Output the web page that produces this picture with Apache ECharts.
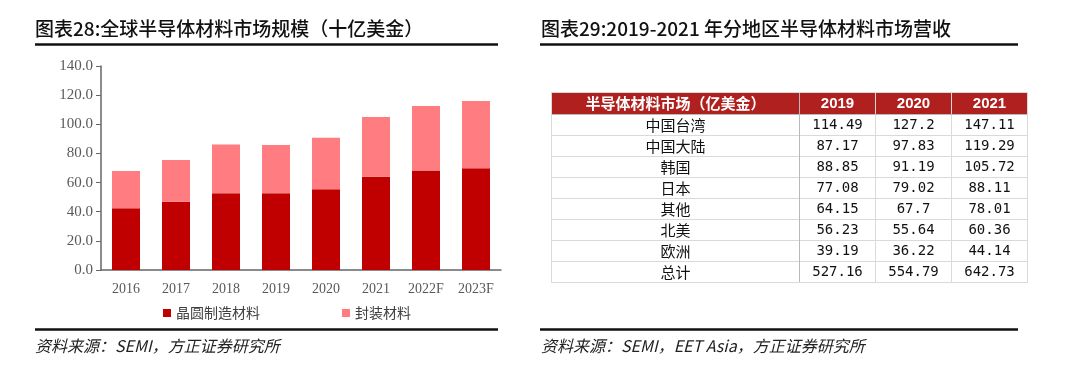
<!DOCTYPE html>
<html>
<head>
<meta charset="utf-8">
<script src="https://cdn.jsdelivr.net/npm/echarts@6/dist/echarts.min.js"></script>
<style>html,body{margin:0;padding:0;background:#fff}#c{width:1080px;height:370px}</style>
</head>
<body>
<div id="c"></div>
<script>
// ---- Data ----
const years = ['2016', '2017', '2018', '2019', '2020', '2021', '2022F', '2023F'];
const waferMaterials = [42.3, 46.9, 52.6, 52.6, 55.4, 64.0, 68.2, 69.8];
const packagingMaterials = [25.6, 28.6, 33.6, 33.2, 35.4, 41.0, 44.3, 46.2];
const yAxisMax = 140;
const yAxisStep = 20;

const tableHeader = '半导体材料市场（亿美金）';
const tableYears = ['2019', '2020', '2021'];
const regions = ['中国台湾', '中国大陆', '韩国', '日本', '其他', '北美', '欧洲', '总计'];
const rev2019 = [114.49, 87.17, 88.85, 77.08, 64.15, 56.23, 39.19, 527.16];
const rev2020 = [127.2, 97.83, 91.19, 79.02, 67.7, 55.64, 36.22, 554.79];
const rev2021 = [147.11, 119.29, 105.72, 88.11, 78.01, 60.36, 44.14, 642.73];

const leftTitle = '图表28:全球半导体材料市场规模（十亿美金）';
const rightTitle = '图表29:2019-2021 年分地区半导体材料市场营收';
const leftSource = '资料来源：SEMI，方正证券研究所';
const rightSource = '资料来源：SEMI，EET Asia，方正证券研究所';
const seriesNames = ['晶圆制造材料', '封装材料'];

// ---- Build ----
const revByYear = [rev2019, rev2020, rev2021];
const bodyData = [];
tableYears.forEach((y, xi) => {
  regions.forEach((r, yi) => {
    bodyData.push({ coord: [y, r], value: String(revByYear[xi][yi]) });
  });
});

const CJK = '"Noto Sans CJK SC", sans-serif';
const SERIF = '"Liberation Serif", "DejaVu Serif", serif';
const gridLine = '#d9d9d9';
const headerRed = '#B0201E';

const chart = echarts.init(document.getElementById('c'), null, { renderer: 'canvas' });
chart.setOption({
  backgroundColor: '#fff',
  animation: false,
  title: [
    { text: leftTitle, left: 35, top: 19, padding: 0,
      textStyle: { fontFamily: CJK, fontSize: 19, fontWeight: 500, color: '#111' } },
    { text: rightTitle, left: 541, top: 19, padding: 0,
      textStyle: { fontFamily: CJK, fontSize: 19, fontWeight: 500, color: '#111' } },
    { text: leftSource, left: 35, top: 338, padding: 0,
      textStyle: { fontFamily: CJK, fontSize: 16, fontStyle: 'italic', fontWeight: 'normal', color: '#222' } },
    { text: rightSource, left: 541, top: 338, padding: 0,
      textStyle: { fontFamily: CJK, fontSize: 16, fontStyle: 'italic', fontWeight: 'normal', color: '#222' } }
  ],
  graphic: [
    { type: 'line', shape: { x1: 35, y1: 44.5, x2: 498, y2: 44.5 }, style: { stroke: '#111', lineWidth: 2.5 } },
    { type: 'line', shape: { x1: 540, y1: 44.5, x2: 1018, y2: 44.5 }, style: { stroke: '#111', lineWidth: 2.5 } },
    { type: 'line', shape: { x1: 35, y1: 329.5, x2: 498, y2: 329.5 }, style: { stroke: '#111', lineWidth: 2.5 } },
    { type: 'line', shape: { x1: 540, y1: 329.5, x2: 1018, y2: 329.5 }, style: { stroke: '#111', lineWidth: 2.5 } }
  ],
  legend: {
    left: 158, top: 301, itemWidth: 8, itemHeight: 8, itemGap: 82, icon: 'rect',
    textStyle: { fontFamily: CJK, fontSize: 14, color: '#404040' },
    data: seriesNames
  },
  grid: { left: 101, top: 66, width: 400, height: 204, containLabel: false },
  xAxis: {
    type: 'category', data: years,
    axisLine: { lineStyle: { color: '#666', width: 1.5 } },
    axisTick: { show: false },
    axisLabel: { fontFamily: SERIF, fontSize: 14, color: '#595959', margin: 12 }
  },
  yAxis: {
    type: 'value', min: 0, max: yAxisMax, interval: yAxisStep,
    axisLine: { show: true, lineStyle: { color: '#666', width: 1.5 } },
    axisTick: { show: true, length: 5, lineStyle: { color: '#666' } },
    splitLine: { show: false },
    axisLabel: { fontFamily: SERIF, fontSize: 15, color: '#595959', margin: 8,
      formatter: v => v.toFixed(1) }
  },
  matrix: {
    left: 551, top: 92, width: 476, height: 190,
    backgroundStyle: { color: '#fff', borderColor: gridLine, borderWidth: 1 },
    x: {
      data: tableYears,
      levelSize: 22,
      itemStyle: { color: headerRed, borderColor: gridLine, borderWidth: 1 },
      label: { color: '#fff', fontFamily: '"Liberation Sans", Arial, sans-serif', fontSize: 15, fontWeight: 'bold' }
    },
    y: {
      data: regions,
      levelSize: 248,
      itemStyle: { color: '#fff', borderColor: gridLine, borderWidth: 1 },
      label: { color: '#111', fontFamily: CJK, fontSize: 15 }
    },
    corner: {
      data: [{ coord: [-1, -1], value: tableHeader }],
      itemStyle: { color: headerRed, borderColor: gridLine, borderWidth: 1 },
      label: { color: '#fff', fontFamily: CJK, fontSize: 15, fontWeight: 'bold' }
    },
    body: {
      data: bodyData,
      itemStyle: { color: '#fff', borderColor: gridLine, borderWidth: 1 },
      label: { color: '#111', fontFamily: '"DejaVu Sans Mono", monospace', fontSize: 14 }
    }
  },
  series: [
    { name: seriesNames[0], type: 'bar', stack: 'total', data: waferMaterials, barWidth: 28,
      itemStyle: { color: '#C00000' } },
    { name: seriesNames[1], type: 'bar', stack: 'total', data: packagingMaterials, barWidth: 28,
      itemStyle: { color: '#FF7C80' } }
  ]
});
</script>
</body>
</html>
